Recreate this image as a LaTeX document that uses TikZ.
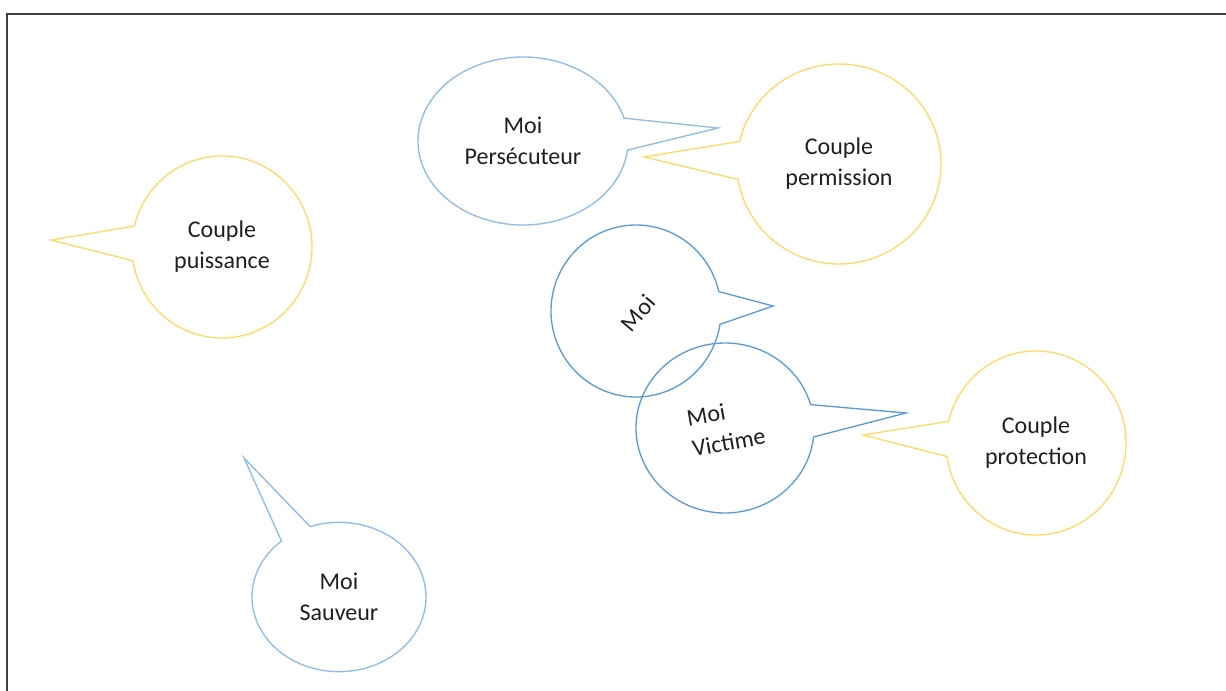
\documentclass[tikz,border=0pt]{standalone}
\usepackage{fontspec}
\setmainfont{Carlito}
\usetikzlibrary{shapes.callouts}
\definecolor{moiblue}{HTML}{5B9BD5}
\definecolor{moilight}{HTML}{8FBCE4}
\definecolor{coupleyellow}{HTML}{FFD966}
\definecolor{frameline}{HTML}{404040}
\definecolor{inktext}{HTML}{1F1F1F}
\newcommand\calloutfont{\fontsize{18}{23.25}\selectfont}
\begin{document}
\begin{tikzpicture}[x=0.75pt,y=-0.75pt,
  bubble/.style={ellipse callout, callout pointer arc=22, line width=1pt,
    inner sep=0pt, text=inktext, align=center, font=\calloutfont},
  moi/.style={bubble, draw=moiblue},
  moisoft/.style={bubble, draw=moilight},
  couple/.style={bubble, draw=coupleyellow},
  tag/.style={inner sep=0pt, text=inktext, font=\calloutfont}
]
\useasboundingbox (0,0) rectangle (1226,691);

% page frame (top and left edges)
\draw[frameline, line width=1.5pt] (1226,14) -- (7,14) -- (7,691);

% pointer tips
\coordinate (tipPuissance)   at (51,240);
\coordinate (tipPersecuteur) at (718,128);
\coordinate (tipPermission)  at (644,157);
\coordinate (tipMoi)         at (773,306);
\coordinate (tipVictime)     at (906,413);
\coordinate (tipProtection)  at (863,435);
\coordinate (tipSauveur)     at (244,458);

% couple bubbles
\node[couple, minimum width=135pt, minimum height=136.5pt,
      callout absolute pointer={(tipPuissance)}] (puissance) at (222,247)
      {Couple\\puissance};
\node[couple, minimum width=153pt, minimum height=150pt,
      callout absolute pointer={(tipPermission)}] (permission) at (839,164)
      {Couple\\permission};
\node[couple, minimum width=135pt, minimum height=138pt,
      callout absolute pointer={(tipProtection)}] (protection) at (1036,443)
      {Couple\\protection};

% self bubbles
\node[moisoft, minimum width=157.5pt, minimum height=126pt,
      callout absolute pointer={(tipPersecuteur)}] (persecuteur) at (523,141)
      {Moi\\Persécuteur};
\node[moi, minimum width=127.5pt, minimum height=129pt,
      callout absolute pointer={(tipMoi)}] (moi) at (636,311) {};
\node[tag, rotate=50] (moiText) at (638,313) {Moi};
\node[moi, minimum width=133.5pt, minimum height=127.5pt,
      callout absolute pointer={(tipVictime)}] (victime) at (725,428) {};
\node[tag, rotate=10, align=left] (victimeText) at (726,427) {Moi\\Victime};
\node[moisoft, minimum width=130.5pt, minimum height=112pt,
      callout absolute pointer={(tipSauveur)}] (sauveur) at (339,597)
      {Moi\\Sauveur};
\end{tikzpicture}
\end{document}
